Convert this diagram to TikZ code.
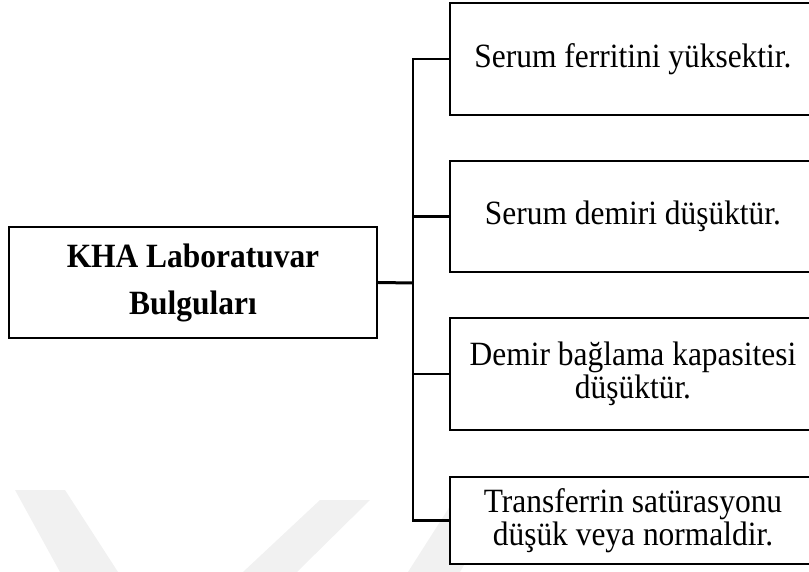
\documentclass[tikz,border=0pt]{standalone}
\usepackage{fontspec}
\setmainfont[FakeStretch=0.925]{Liberation Serif}
\definecolor{wmark}{HTML}{F1F1F1}
\tikzset{
  sidebox/.style={draw=black, line width=1.2pt, fill=white, minimum width=183pt, align=center, inner sep=0pt,
    font=\fontsize{17pt}{15pt}\selectfont},
  rootbox/.style={draw=black, line width=1.2pt, fill=white, minimum width=184pt, minimum height=55.5pt, align=center, inner sep=0pt,
    font=\fontsize{17pt}{23.5pt}\selectfont\bfseries},
  conn/.style={draw=black, line width=1.2pt},
  rootconn/.style={draw=black, line width=1.5pt}
}
\begin{document}
\begin{tikzpicture}[x=0.5pt, y=-0.5pt]
\useasboundingbox (0,0) rectangle (809,572);
\clip (0,0) rectangle (809,572);
% faint watermark stripes
\fill[wmark] (15,490) -- (65,490) -- (118,572) -- (60,572) -- cycle;
\fill[wmark] (320,500) -- (370,500) -- (297,572) -- (243,572) -- cycle;
\fill[wmark] (452,503) -- (500,503) -- (460,572) -- (408,572) -- cycle;
% boxes
\node[rootbox] (root) at (193,282.5) {KHA Laboratuvar\\Bulguları};
\node[sidebox, minimum height=56pt] (b1) at (633,59) {Serum ferritini yüksektir.};
\node[sidebox, minimum height=55.5pt] (b2) at (633,216.5) {Serum demiri düşüktür.};
\node[sidebox, minimum height=56pt] (b3) at (633,374) {Demir bağlama kapasitesi\\düşüktür.};
\node[sidebox, minimum height=43.5pt] (b4) at (633,520.5) {Transferrin satürasyonu\\düşük veya normaldir.};
% connectors
\coordinate (j) at (413,283);
\draw[rootconn] (root.east) -- (j);
\draw[conn] (b1.west) -| (j) |- (b4.west);
\draw[conn] (j |- b2.west) -- (b2.west);
\draw[conn] (j |- b3.west) -- (b3.west);
\end{tikzpicture}
\end{document}
